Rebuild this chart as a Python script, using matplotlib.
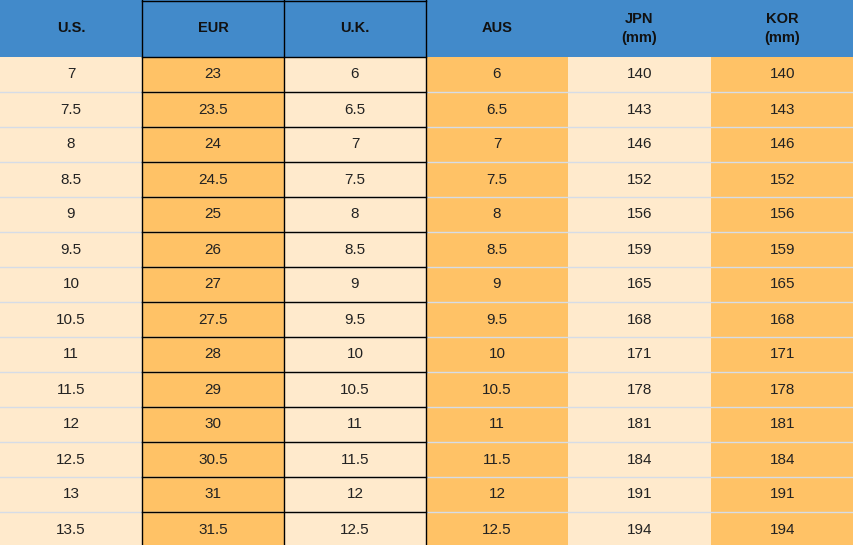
import matplotlib
matplotlib.use("Agg")
import matplotlib.pyplot as plt
from matplotlib.patches import Rectangle

headers = ["U.S.", "EUR", "U.K.", "AUS", "JPN\n(mm)", "KOR\n(mm)"]
us = ["7","7.5","8","8.5","9","9.5","10","10.5","11","11.5","12","12.5","13","13.5"]
eur = ["23","23.5","24","24.5","25","26","27","27.5","28","29","30","30.5","31","31.5"]
uk = ["6","6.5","7","7.5","8","8.5","9","9.5","10","10.5","11","11.5","12","12.5"]
aus = ["6","6.5","7","7.5","8","8.5","9","9.5","10","10.5","11","11.5","12","12.5"]
jpn = ["140","143","146","152","156","159","165","168","171","178","181","184","191","194"]
kor = ["140","143","146","152","156","159","165","168","171","178","181","184","191","194"]
cols = [us, eur, uk, aus, jpn, kor]

W, H = 854, 545
fig = plt.figure(figsize=(W/100, H/100), dpi=100)
ax = fig.add_axes([0, 0, 1, 1])
ax.set_xlim(0, W); ax.set_ylim(H, 0); ax.axis("off")

xs = [0, 142, 284, 426, 568, 711, 854]
hh = 57; rh = 35
light, orange, blue = "#FFEACC", "#FFC266", "#428ACA"
colfill = [light, orange, light, orange, light, orange]
font = "Liberation Sans"

ax.add_patch(Rectangle((0, 0), W, hh, facecolor=blue, edgecolor="none"))
for j, h in enumerate(headers):
    ax.text((xs[j]+xs[j+1])/2, hh/2, h, ha="center", va="center", fontsize=10.5,
            fontweight="bold", color="#111111", family=font, linespacing=1.5)
n = len(us)
for j, col in enumerate(cols):
    for i, v in enumerate(col):
        y = hh + i*rh
        ax.add_patch(Rectangle((xs[j], y), xs[j+1]-xs[j], rh, facecolor=colfill[j], edgecolor="none"))
        ax.text((xs[j]+xs[j+1])/2, y+rh/2, v, ha="center", va="center", fontsize=11,
                color="#222222", family=font)
# light row lines
for i in range(1, n+1):
    y = hh + i*rh
    ax.plot([0, W], [y, y], color="#D6DCE6", lw=1, zorder=3)
# black borders for EUR and U.K.
for i in range(n+1):
    y = hh + i*rh
    ax.plot([xs[1], xs[3]], [y, y], color="black", lw=1, zorder=4)
ax.plot([xs[1], xs[3]], [1, 1], color="black", lw=1, zorder=4)
for x in xs[1:4]:
    ax.plot([x, x], [0, H], color="black", lw=1, zorder=4)
fig.savefig("out.png", dpi=100)
